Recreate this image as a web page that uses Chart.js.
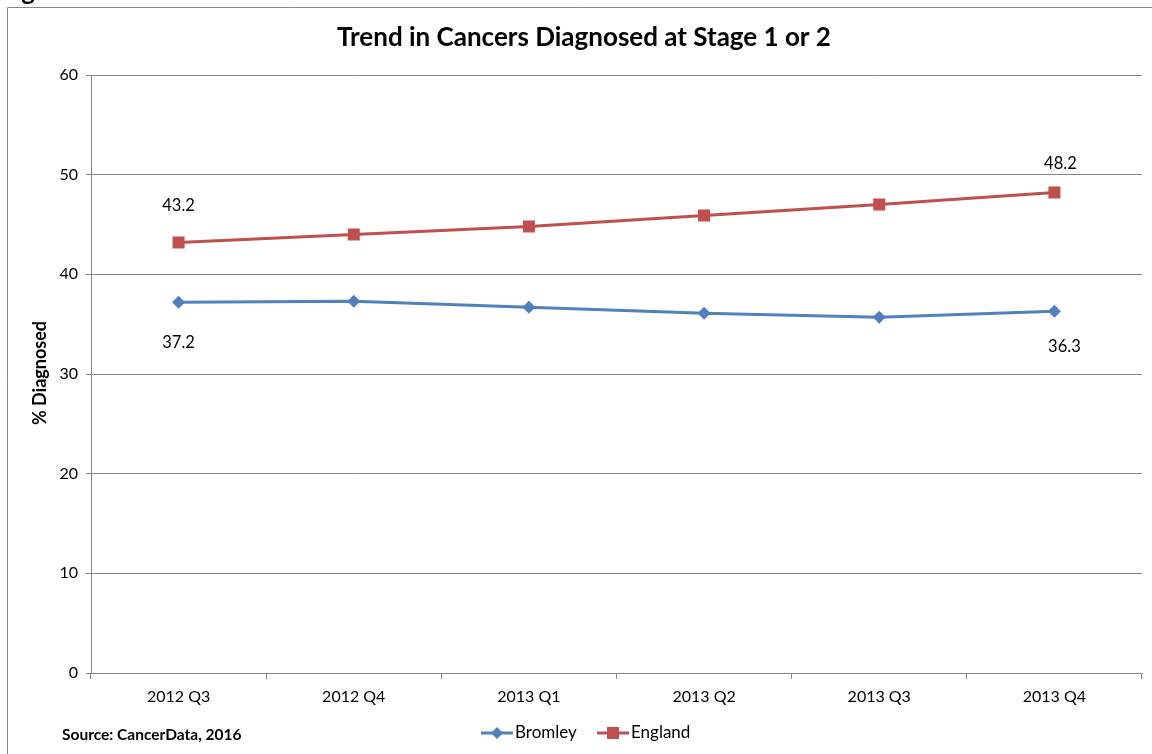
<!DOCTYPE html>
<html>
<head>
<meta charset="utf-8">
<script src="https://cdn.jsdelivr.net/npm/chart.js@4/dist/chart.umd.min.js"></script>
<style>
  html, body { margin: 0; padding: 0; background: #fff; }
  canvas { display: block; }
</style>
</head>
<body>
<canvas id="trend-chart" width="1152" height="754"></canvas>
<script>
const quarters = ['2012 Q3', '2012 Q4', '2013 Q1', '2013 Q2', '2013 Q3', '2013 Q4'];
const bromley = [37.2, 37.3, 36.7, 36.1, 35.7, 36.3];
const england = [43.2, 44.0, 44.8, 45.9, 47.0, 48.2];
const yTicks = [0, 10, 20, 30, 40, 50, 60];

const FONT = 'Lato, "Open Sans", sans-serif';
const BLUE = '#4F81BD';
const RED = '#C0504D';

// frame, title, labels and legend drawn around the plot
const extrasPlugin = {
    id: 'extras',
    beforeDraw(chart) {
        const c = chart.ctx;
        c.save();
        c.fillStyle = '#fff';
        c.fillRect(0, 0, chart.width, chart.height);
        c.strokeStyle = '#868686';
        c.lineWidth = 1;
        c.beginPath();
        c.moveTo(7.5, chart.height);
        c.lineTo(7.5, 7.5);
        c.lineTo(chart.width, 7.5);
        c.stroke();
        // cut-off heading above the frame
        c.fillStyle = '#000';
        c.font = 'bold 26px ' + FONT;
        c.textAlign = 'left';
        c.textBaseline = 'alphabetic';
        c.fillText('Figure 1', 0, 0);
        c.restore();
    },
    afterDraw(chart) {
        const c = chart.ctx;
        c.save();
        c.fillStyle = '#000';
        c.textAlign = 'center';
        c.textBaseline = 'middle';
        c.font = 'bold 26px ' + FONT;
        c.fillText('Trend in Cancers Diagnosed at Stage 1 or 2', 584, 38);

        c.save();
        c.translate(40, 373);
        c.rotate(-Math.PI / 2);
        c.font = 'bold 18px ' + FONT;
        c.fillText('% Diagnosed', 0, 0);
        c.restore();

        c.font = 'bold 15.5px ' + FONT;
        c.textAlign = 'left';
        c.fillText('Source: CancerData, 2016', 62, 735);

        // data labels at first and last point
        c.font = '16.5px ' + FONT;
        c.textAlign = 'center';
        const labelled = [
            { ds: 0, offsets: [[0, 40], [10, 35]] },
            { ds: 1, offsets: [[0, -37], [6, -29]] }
        ];
        labelled.forEach(item => {
            const pts = chart.getDatasetMeta(item.ds).data;
            const vals = chart.data.datasets[item.ds].data;
            [0, pts.length - 1].forEach((idx, k) => {
                const p = pts[idx];
                c.fillText(vals[idx].toFixed(1), p.x + item.offsets[k][0], p.y + item.offsets[k][1]);
            });
        });

        // legend
        const entries = [
            { text: 'Bromley', color: BLUE, shape: 'diamond', x: 481 },
            { text: 'England', color: RED, shape: 'square', x: 597 }
        ];
        const ly = 733;
        c.font = '17px ' + FONT;
        entries.forEach(e => {
            c.strokeStyle = e.color;
            c.fillStyle = e.color;
            c.lineWidth = 3;
            c.beginPath();
            c.moveTo(e.x, ly);
            c.lineTo(e.x + 32, ly);
            c.stroke();
            const cx = e.x + 16;
            c.beginPath();
            if (e.shape === 'diamond') {
                c.moveTo(cx, ly - 6);
                c.lineTo(cx + 6, ly);
                c.lineTo(cx, ly + 6);
                c.lineTo(cx - 6, ly);
                c.closePath();
            } else {
                c.rect(cx - 6, ly - 6, 12, 12);
            }
            c.fill();
            c.fillStyle = '#000';
            c.textAlign = 'left';
            c.fillText(e.text, e.x + 34, ly);
        });
        c.restore();
    }
};

const ctx = document.getElementById('trend-chart').getContext('2d');
const trendChart = new Chart(ctx, {
    type: 'line',
    data: {
        labels: quarters,
        datasets: [{
            label: 'Bromley',
            data: bromley,
            borderColor: BLUE,
            backgroundColor: BLUE,
            borderWidth: 3,
            pointStyle: 'rectRot',
            pointRadius: 6.5,
            pointBorderWidth: 0,
            tension: 0
        }, {
            label: 'England',
            data: england,
            borderColor: RED,
            backgroundColor: RED,
            borderWidth: 3,
            pointStyle: 'rect',
            pointRadius: 8.5,
            pointBorderWidth: 0,
            tension: 0
        }]
    },
    options: {
        responsive: false,
        animation: false,
        layout: {
            padding: { left: 0, right: 10, top: 75, bottom: 0 }
        },
        scales: {
            x: {
                offset: true,
                grid: {
                    offset: true,
                    drawOnChartArea: false,
                    drawTicks: true,
                    tickLength: 6,
                    color: '#868686'
                },
                border: { color: '#868686', width: 1 },
                ticks: {
                    color: '#000',
                    font: { family: FONT, size: 16 },
                    padding: 8,
                    maxRotation: 0
                },
                afterFit(scale) { scale.height = 81; }
            },
            y: {
                min: 0,
                max: 60,
                afterBuildTicks(scale) {
                    scale.ticks = yTicks.map(v => ({ value: v }));
                },
                grid: {
                    color: '#868686',
                    drawTicks: true,
                    tickLength: 5
                },
                border: { color: '#868686', width: 1 },
                ticks: {
                    color: '#000',
                    font: { family: FONT, size: 16 },
                    padding: 8
                },
                afterFit(scale) { scale.width = 91; }
            }
        },
        plugins: {
            legend: { display: false },
            title: { display: false },
            tooltip: { enabled: false }
        }
    },
    plugins: [extrasPlugin]
});
</script>
</body>
</html>
